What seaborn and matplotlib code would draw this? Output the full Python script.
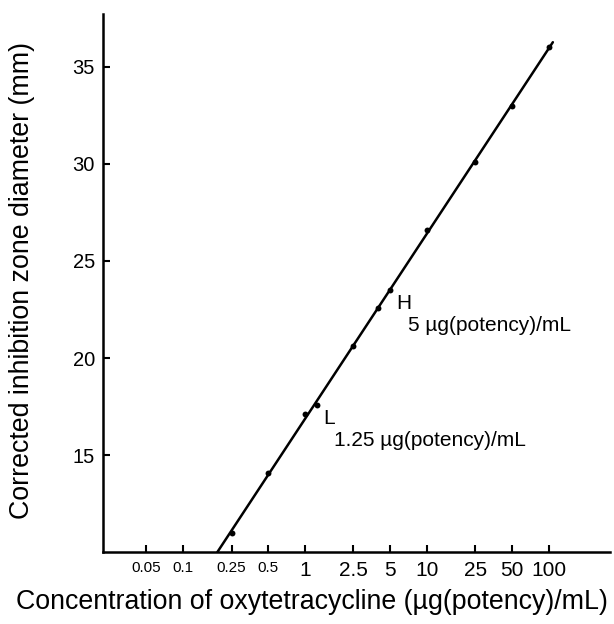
import numpy as np
import pandas as pd
import seaborn as sns
import matplotlib
matplotlib.use("Agg")
import matplotlib.pyplot as plt
from matplotlib import font_manager

# concentrations (ug(potency)/mL) and corrected zone diameters (mm)
conc = [0.25, 0.5, 1, 1.25, 2.5, 4, 5, 10, 25, 50, 100]
diameter = [11.0, 14.1, 17.1, 17.6, 20.6, 22.6, 23.5, 26.6, 30.1, 33.0, 36.0]

x_ticks = [0.05, 0.1, 0.25, 0.5, 1, 2.5, 5, 10, 25, 50, 100]
x_tick_labels = ["0.05", "0.1", "0.25", "0.5", "1", "2.5", "5", "10", "25", "50", "100"]
y_ticks = [15, 20, 25, 30, 35]

high_conc, high_label = 5, "5 µg(potency)/mL"
low_conc, low_label = 1.25, "1.25 µg(potency)/mL"

sns.set_theme(style="ticks")
plt.rcParams["font.family"] = ["Liberation Sans", "DejaVu Sans"]
plt.rcParams["text.color"] = "black"
plt.rcParams["axes.labelcolor"] = "black"

installed = {f.name for f in font_manager.fontManager.ttflist}
narrow = "Liberation Sans Narrow" if "Liberation Sans Narrow" in installed else "Liberation Sans"

df = pd.DataFrame({"conc": conc, "diameter": diameter})

# straight-line fit of diameter against log10(conc)
slope, intercept = np.polyfit(np.log10(df["conc"]), df["diameter"], 1)
y_bottom = 10
x_start = 10 ** ((y_bottom - intercept) / slope)
fit_x = np.logspace(np.log10(x_start), np.log10(max(conc) * 1.08), 50)
fit = pd.DataFrame({"conc": fit_x, "diameter": slope * np.log10(fit_x) + intercept})

fig = plt.figure(figsize=(6.14, 6.24), dpi=100)
ax = fig.add_axes([0.168, 0.115, 0.825, 0.862])

sns.lineplot(data=fit, x="conc", y="diameter", color="black", linewidth=1.8, ax=ax)
sns.scatterplot(data=df, x="conc", y="diameter", color="black", s=18,
                edgecolor="black", linewidth=0, zorder=3, ax=ax)

ax.set_xscale("log")
ax.set_xlim(0.0221, 316)
ax.set_ylim(y_bottom, 37.7)
ax.set_xticks(x_ticks)
ax.set_xticklabels(x_tick_labels)
ax.minorticks_off()
ax.set_yticks(y_ticks)

for lab in ax.get_xticklabels()[:4]:
    if narrow == "Liberation Sans":
        lab.set_fontsize(11)
    else:
        lab.set_family(narrow)
        lab.set_fontsize(13.5)
for lab in ax.get_xticklabels()[4:]:
    lab.set_fontsize(15)

ax.tick_params(axis="x", direction="in", length=5, width=1.5, pad=6, colors="black")
ax.tick_params(axis="y", direction="in", length=5, width=1.5, pad=6, labelsize=14.5,
               colors="black")

sns.despine(ax=ax)
for side in ["left", "bottom"]:
    ax.spines[side].set_linewidth(1.8)
    ax.spines[side].set_color("black")

ax.set_xlabel("Concentration of oxytetracycline (µg(potency)/mL)", fontsize=19.3)
ax.set_ylabel("Corrected inhibition zone diameter (mm)", fontsize=19.3)
ax.xaxis.set_label_coords(0.412, -0.068)
ax.yaxis.set_label_coords(-0.134, 0.506)

# H and L reference concentrations
for c, name, label in [(high_conc, "H", high_label), (low_conc, "L", low_label)]:
    d = df.loc[df["conc"] == c, "diameter"].iloc[0]
    ax.annotate(name, xy=(c, d), xytext=(4.3, -9.7), textcoords="offset points",
                ha="left", va="center", fontsize=15)
    ax.annotate(label, xy=(c, d), xytext=(12.5, -25.5), textcoords="offset points",
                ha="left", va="center", fontsize=15)

fig.savefig("out.png", dpi=100, facecolor="white")
